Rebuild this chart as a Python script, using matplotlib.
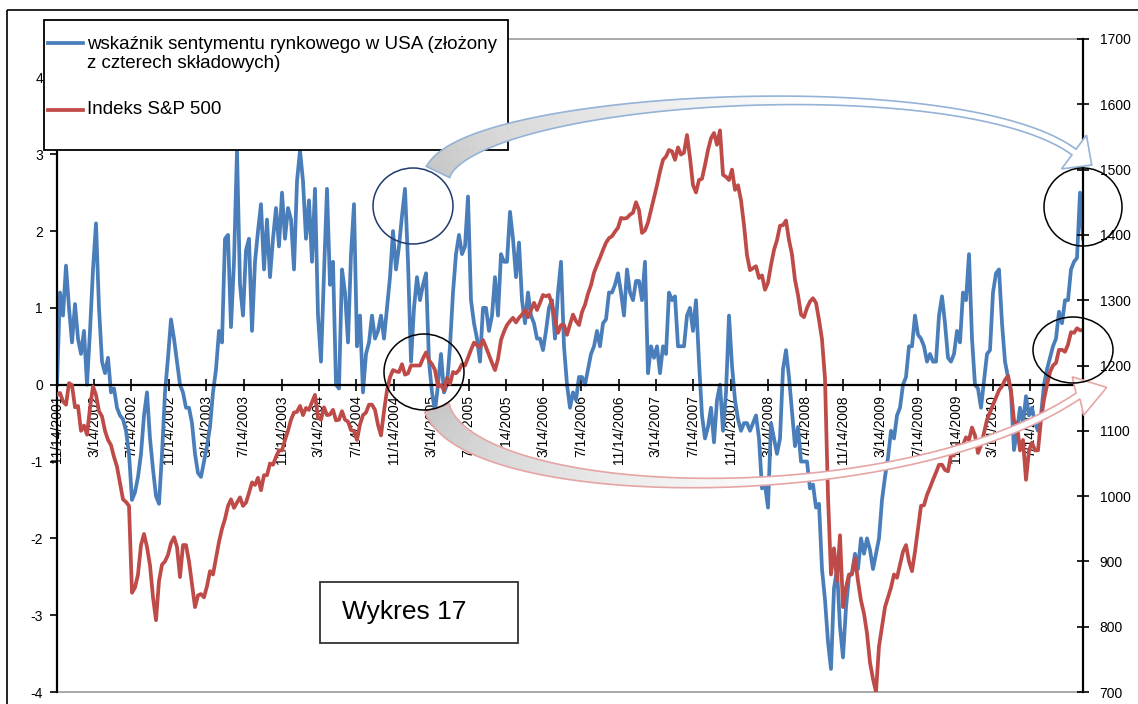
import matplotlib
matplotlib.use('Agg')
import matplotlib.pyplot as plt
import matplotlib.patches as mpatches
import matplotlib.transforms as mtransforms
from matplotlib.lines import Line2D
import numpy as np
import pandas as pd

plt.rcParams['font.family'] = ['Liberation Sans', 'DejaVu Sans']
plt.rcParams['axes.unicode_minus'] = False

W, H = 1138, 704

# zakres dat (punkty rozlozone rownomiernie w czasie)
start, end = '2001-11-14', '2011-01-02'

# wskaznik sentymentu rynkowego w USA (lewa os)
sentiment = [
    0.0, 1.2, 0.9, 1.55, 1.0, 0.55, 1.05, 0.6, 0.4, 0.7,
    0.0, 0.7, 1.5, 2.1, 1.0, 0.3, 0.15, 0.35, -0.1, -0.05,
    -0.3, -0.4, -0.45, -0.6, -0.9, -1.5, -1.4, -1.2, -0.9, -0.4,
    -0.1, -0.7, -1.1, -1.45, -1.55, -0.9, -0.1, 0.35, 0.85, 0.6,
    0.3, 0.0, -0.1, -0.3, -0.3, -0.5, -0.9, -1.15, -1.2, -1.0,
    -0.8, -0.55, -0.1, 0.2, 0.7, 0.55, 1.9, 1.95, 0.75, 1.6,
    3.05, 1.3, 0.9, 1.75, 1.9, 0.7, 1.6, 2.0, 2.35, 1.5,
    2.15, 1.4, 1.9, 2.3, 1.8, 2.5, 1.9, 2.3, 2.15, 1.5,
    2.65, 3.05, 2.65, 1.9, 2.4, 1.6, 2.55, 0.9, 0.3, 1.45,
    2.55, 1.3, 1.6, 0.0, -0.05, 1.5, 1.2, 0.55, 1.7, 2.35,
    0.5, 0.9, -0.1, 0.4, 0.55, 0.9, 0.6, 0.7, 0.9, 0.6,
    1.0, 1.4, 2.0, 1.5, 1.8, 2.2, 2.55, 1.6, 0.3, 1.0,
    1.4, 1.1, 1.3, 1.45, 0.3, -0.1, -0.35, 0.0, 0.4, -0.1,
    0.0, 0.5, 1.2, 1.7, 1.95, 1.7, 1.8, 2.45, 1.1, 0.8,
    0.6, 0.3, 1.0, 1.0, 0.7, 0.9, 1.4, 0.9, 1.7, 1.6,
    1.6, 2.25, 1.9, 1.4, 1.85, 1.1, 0.8, 1.2, 0.9, 0.8,
    0.6, 0.6, 0.45, 0.7, 1.0, 1.1, 0.6, 1.2, 1.6, 0.5,
    0.0, -0.3, -0.1, -0.2, 0.1, 0.1, 0.0, 0.2, 0.4, 0.5,
    0.7, 0.5, 0.8, 0.85, 1.2, 1.2, 1.3, 1.45, 1.2, 0.9,
    1.5, 1.2, 1.1, 1.35, 1.35, 1.1, 1.6, 0.15, 0.5, 0.35,
    0.5, 0.15, 0.5, 0.4, 1.2, 1.1, 1.15, 0.5, 0.5, 0.5,
    0.9, 1.0, 0.7, 1.1, 0.3, -0.4, -0.7, -0.55, -0.3, -0.75,
    -0.2, 0.0, -0.6, -0.1, 0.9, 0.25, -0.2, -0.45, -0.6, -0.5,
    -0.5, -0.6, -0.5, -0.4, -0.7, -1.35, -1.3, -1.6, -0.5, -0.7,
    -0.9, -0.7, 0.2, 0.45, 0.1, -0.35, -0.8, -0.55, -1.0, -1.0,
    -1.0, -1.35, -1.3, -1.6, -1.55, -2.4, -2.8, -3.35, -3.7, -2.65,
    -2.4, -3.15, -3.55, -2.9, -2.5, -2.45, -2.2, -2.4, -2.0, -2.2,
    -2.0, -2.15, -2.4, -2.2, -2.0, -1.5, -1.2, -0.95, -0.6, -0.7,
    -0.4, -0.3, 0.0, 0.1, 0.5, 0.5, 0.9, 0.65, 0.6, 0.5,
    0.3, 0.4, 0.3, 0.3, 0.9, 1.15, 0.8, 0.35, 0.3, 0.4,
    0.7, 0.55, 1.2, 1.1, 1.7, 0.6, 0.0, -0.05, -0.3, 0.05,
    0.4, 0.45, 1.2, 1.45, 1.5, 0.8, 0.3, 0.1, -0.1, -0.85,
    -0.6, -0.3, -0.5, -0.15, -0.4, -0.3, -0.5, -0.6, -0.4, 0.0,
    0.2, 0.35, 0.5, 0.6, 0.95, 0.8, 1.1, 1.1, 1.5, 1.6,
    1.65, 2.5, 1.9,
]

# indeks S&P 500 (prawa os)
sp500 = [
    1155, 1158, 1145, 1140, 1173, 1170, 1136, 1138, 1100, 1108,
    1094, 1135, 1168, 1155, 1130, 1122, 1100, 1086, 1078, 1060,
    1045, 1020, 995, 991, 985, 852, 860, 880, 925, 942,
    922, 894, 845, 810, 870, 895, 900, 910, 928, 937,
    922, 876, 925, 925, 900, 865, 830, 848, 850, 845,
    862, 885, 880, 905, 930, 950, 965, 985, 995, 982,
    990, 998, 985, 990, 1005, 1021, 1017, 1028, 1009, 1032,
    1032, 1050, 1048, 1060, 1070, 1070, 1086, 1100, 1117, 1128,
    1129, 1138, 1124, 1135, 1132, 1144, 1155, 1120, 1117, 1136,
    1124, 1125, 1132, 1116, 1117, 1130, 1117, 1114, 1101, 1100,
    1086, 1110, 1124, 1128, 1140, 1140, 1132, 1109, 1093, 1130,
    1162, 1182, 1193, 1191, 1190, 1202, 1186, 1188, 1200, 1200,
    1200, 1200, 1211, 1220, 1208, 1202, 1193, 1168, 1170, 1162,
    1181, 1172, 1190, 1188, 1193, 1202, 1200, 1212, 1224, 1235,
    1231, 1228, 1239, 1228, 1216, 1204, 1193, 1210, 1239, 1252,
    1262, 1268, 1273, 1266, 1273, 1278, 1285, 1274, 1285, 1296,
    1285, 1296, 1308, 1306, 1308, 1294, 1270, 1250, 1262, 1262,
    1247, 1263, 1278, 1268, 1262, 1282, 1293, 1310, 1323, 1342,
    1354, 1365, 1377, 1388, 1395, 1398, 1405, 1411, 1426, 1425,
    1426, 1431, 1434, 1450, 1438, 1403, 1407, 1419, 1438, 1457,
    1476, 1497, 1515, 1520, 1530, 1528, 1515, 1534, 1523, 1526,
    1553, 1518, 1476, 1465, 1484, 1486, 1507, 1530, 1548, 1556,
    1538, 1560, 1492, 1489, 1484, 1500, 1469, 1476, 1453, 1415,
    1369, 1346, 1349, 1352, 1334, 1338, 1316, 1327, 1354, 1377,
    1392, 1414, 1415, 1422, 1392, 1370, 1331, 1308, 1278, 1274,
    1288, 1298, 1303, 1296, 1270, 1240, 1180, 1000, 880, 920,
    870, 940, 830, 860, 880, 880, 905, 870, 840, 820,
    790, 745, 720, 700, 770, 800, 830, 845, 860, 880,
    875, 895, 915, 925, 900, 885, 915, 950, 985, 986,
    1002, 1013, 1025, 1036, 1048, 1048, 1040, 1038, 1063, 1062,
    1078, 1078, 1078, 1090, 1086, 1105, 1093, 1066, 1078, 1097,
    1117, 1128, 1140, 1151, 1162, 1168, 1178, 1184, 1162, 1116,
    1109, 1070, 1086, 1025, 1070, 1082, 1070, 1070, 1117, 1148,
    1170, 1190, 1200, 1204, 1224, 1224, 1221, 1232, 1251, 1250,
    1257, 1254, 1254,
]

dates = pd.date_range(start, end, periods=len(sentiment))
tick_dates = pd.date_range('2001-11-14', '2010-07-14', freq=pd.DateOffset(months=4))
tick_labels = [f'{d.month}/{d.day}/{d.year}' for d in tick_dates]

legend_labels = ['wskaźnik sentymentu rynkowego w USA (złożony\nz czterech składowych)',
                 'Indeks S&P 500']

BLUE = '#4a7ebb'
RED = '#be4b48'

fig = plt.figure(figsize=(W / 100, H / 100), dpi=100)
# wspolrzedne w pikselach obrazu (y w dol)
px = mtransforms.Affine2D().scale(1 / W, -1 / H).translate(0, 1) + fig.transFigure

ax = fig.add_axes([57 / W, 1 - 692 / H, 1026 / W, 653 / H])
ax.plot(dates, sentiment, color=BLUE, lw=2.7)
ax.set_ylim(-4, 4.5)
ax.set_xlim(pd.Timestamp(start), pd.Timestamp(end))

ax2 = ax.twinx()
ax2.plot(dates, sp500, color=RED, lw=2.7)
ax2.set_ylim(700, 1700)

ax.add_patch(mpatches.Rectangle((0, 0), 1, 1, transform=ax.transAxes, fill=False,
                                ec='#9a9a9a', lw=1.2, clip_on=False, zorder=0.5))

for s in ['top', 'right']:
    ax.spines[s].set_visible(False)
ax.spines['bottom'].set_position(('data', 0))
for s in ['bottom', 'left']:
    ax.spines[s].set_linewidth(1.6)
    ax.spines[s].set_color('black')
for s in ['top', 'left', 'bottom']:
    ax2.spines[s].set_visible(False)
ax2.spines['right'].set_linewidth(1.6)

ax.set_yticks(range(-4, 5))
ax.tick_params(axis='y', direction='out', length=5, width=1.2, labelsize=10, pad=5)
ax.set_xticks(tick_dates)
ax.set_xticklabels(tick_labels, rotation=90)
ax.tick_params(axis='x', direction='inout', length=8, width=1.2, labelsize=10, pad=3.5)
ax2.set_yticks(range(700, 1701, 100))
ax2.tick_params(axis='y', direction='inout', length=8, width=1.2, labelsize=10, pad=8)

# ramka calego wykresu
fig.add_artist(mpatches.Rectangle((7, 10), 1400, 900, transform=px, fill=False,
                                  ec='black', lw=1.2, zorder=10))

# legenda
fig.add_artist(mpatches.Rectangle((44, 20), 464, 130, transform=px, fc='white',
                                  ec='black', lw=1.3, zorder=5))
fig.add_artist(Line2D([48, 83], [43, 43], transform=px, color=BLUE, lw=2.7, zorder=5.1))
fig.add_artist(Line2D([48, 83], [110, 110], transform=px, color=RED, lw=2.7, zorder=5.1))
fig.text(87, 54, legend_labels[0], transform=px, fontsize=13.5, va='center',
         linespacing=1.2, zorder=5.1)
fig.text(87, 110, legend_labels[1], transform=px, fontsize=13.5, va='center', zorder=5.1)

# podpis
fig.add_artist(mpatches.Rectangle((320, 582), 198, 61, transform=px, fc='white',
                                  ec='#333333', lw=1.3, zorder=5))
fig.text(342, 612, 'Wykres 17', transform=px, fontsize=19, va='center', zorder=5.1)


def curved_arrow(p, w0, w1, head_w, head_len, edge, head_dir=None, n=90):
    p = np.array(p, float)
    t = np.linspace(0, 1, n)[:, None]
    b = ((1 - t) ** 3 * p[0] + 3 * (1 - t) ** 2 * t * p[1]
         + 3 * (1 - t) * t ** 2 * p[2] + t ** 3 * p[3])
    d = (-3 * (1 - t) ** 2 * p[0] + 3 * ((1 - t) ** 2 - 2 * t * (1 - t)) * p[1]
         + 3 * (2 * t * (1 - t) - t ** 2) * p[2] + 3 * t ** 2 * p[3])
    d /= np.linalg.norm(d, axis=1, keepdims=True)
    nrm = np.column_stack([-d[:, 1], d[:, 0]])
    w = w1 + (w0 - w1) * (1 - t[:, 0]) ** 3
    left = b + nrm * w[:, None] / 2
    right = b - nrm * w[:, None] / 2
    for i in range(n - 1):
        g = 0.78 + 0.22 * min(1.0, t[i, 0] / 0.6)
        c = (g, g, g)
        quad = [left[i], left[i + 1], right[i + 1], right[i]]
        fig.add_artist(mpatches.Polygon(quad, closed=True, transform=px, fc=c, ec=c,
                                        lw=0.4, zorder=6))
    hd = d[-1] if head_dir is None else np.array(head_dir, float) / np.hypot(*head_dir)
    hn = np.array([-hd[1], hd[0]])
    tip = b[-1] + hd * head_len
    hl = b[-1] + hn * head_w / 2
    hr = b[-1] - hn * head_w / 2
    fig.add_artist(mpatches.Polygon([hl, tip, hr], closed=True, transform=px,
                                    fc='white', ec='white', zorder=6))
    outline = np.vstack([left, [hl, tip, hr], right[::-1]])
    fig.add_artist(mpatches.Polygon(outline, closed=True, transform=px, fill=False,
                                    ec=edge, lw=1.2, zorder=6.5))


curved_arrow([(438, 172), (475, 95), (960, 68), (1074, 152)], 26, 7, 42, 22, '#95b3d7')
curved_arrow([(437, 408), (470, 505), (900, 515), (1078, 396)], 26, 7, 40, 30, '#e6a5a5',
             head_dir=(1, -0.3))

# okregi
for (cx, cy, ew, eh, col) in [(413, 206, 80, 76, '#1f3a6e'), (424, 372, 80, 76, 'black'),
                              (1083, 207, 78, 78, 'black'), (1073, 350, 80, 66, 'black')]:
    fig.add_artist(mpatches.Ellipse((cx, cy), ew, eh, transform=px, fill=False,
                                    ec=col, lw=1.1, zorder=7))

fig.savefig('out.png', dpi=100)
